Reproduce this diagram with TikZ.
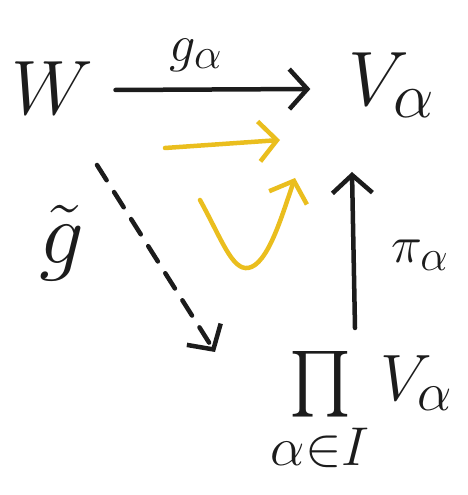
\documentclass[tikz,border=0pt]{standalone}
\usepackage{amsmath}
\usepackage{amssymb}
\usepackage{tikz}
\usetikzlibrary{arrows.meta}
\definecolor{penyellow}{RGB}{234,190,30}
\definecolor{penblack}{RGB}{28,28,28}

\begin{document}
\begin{tikzpicture}[x=1pt,y=1pt,
  ink/.style={line width=4.5pt,line cap=round,line join=round,penblack},
  hand/.style={-{Straight Barb[length=18pt,width=40pt,line width=4.5pt]}},
  big/.style={font=\Huge,scale=3.1,transform shape,penblack,inner sep=0pt},
  lab/.style={font=\Huge,scale=2.1,transform shape,penblack,inner sep=0pt}]
\useasboundingbox (0,0) rectangle (467,495);
\node[big] (W) at (52,407) {$W$};
\node[big] (Va) at (392,410) {$V_\alpha$};
\node[big,scale=0.85] (P) at (362,82) {$\prod\limits_{\alpha\in I} V_\alpha$};
\node[lab] (ga) at (196,440) {$g_\alpha$};
\node[lab] (pia) at (420,240) {$\pi_\alpha$};
\node[big,scale=1.15] (gt) at (62,252) {$\tilde g$};

\draw[ink,hand] ([xshift=22pt,yshift=-2pt]W.east) -- ([xshift=-38pt,yshift=-4pt]Va.west);
\coordinate (u0) at (355,167);
\coordinate (u1) at (352,323);
\draw[ink,hand] (u0) -- (u1);
\coordinate (d0) at (97,330);
\coordinate (d1) at (215,143);
\draw[ink,dash pattern=on 18pt off 14pt,hand] (d0) -- (d1);

\coordinate (y0) at (165,347);
\coordinate (y1) at (280,355);
\draw[ink,penyellow,hand] (y0) -- (y1);
\coordinate (c0) at (200,295);
\coordinate (c1) at (295,317);
\draw[ink,penyellow,hand] (c0) .. controls (222,255) and (232,225) .. (248,227)
  .. controls (268,230) and (282,280) .. (c1);
\end{tikzpicture}
\end{document}
